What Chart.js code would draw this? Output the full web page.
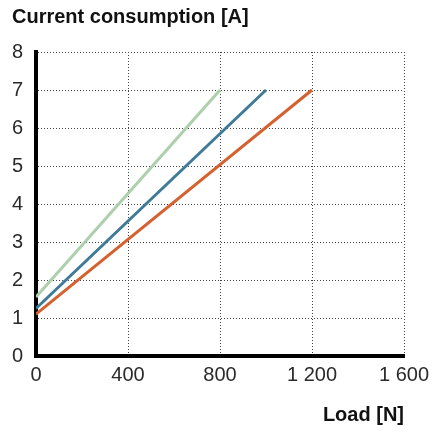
<!DOCTYPE html>
<html>
<head>
<meta charset="utf-8">
<script src="https://cdn.jsdelivr.net/npm/chart.js@4/dist/chart.umd.min.js"></script>
<style>
html, body { margin: 0; padding: 0; background: #fff; }
#wrap { width: 434px; height: 435px; }
</style>
</head>
<body>
<div id="wrap"><canvas id="chart_canvas" width="434" height="435"></canvas></div>
<script>
// values
var loadGreen = [0, 800];
var currentGreen = [1.55, 7];
var loadBlue = [0, 1000];
var currentBlue = [1.25, 7];
var loadOrange = [0, 1200];
var currentOrange = [1.1, 7];
var xTickLabels = ["0", "400", "800", "1 200", "1 600"];
var yTickLabels = ["0", "1", "2", "3", "4", "5", "6", "7", "8"];

function toPoints(xs, ys) {
    var pts = [];
    for (var i = 0; i < xs.length; i++) {
        pts.push({x: xs[i], y: ys[i]});
    }
    return pts;
}

var tickFont = {family: "'Liberation Sans', Arial, sans-serif", size: 20};
var labelFont = {family: "'Liberation Sans', Arial, sans-serif", size: 20, weight: "bold"};
var dotted = {color: "#444", lineWidth: 1, drawTicks: false};

window.myLineChart = new Chart(document.getElementById("chart_canvas").getContext("2d"), {
    type: "scatter",
    data: {
        datasets: [
            {
                label: "Green",
                showLine: true,
                borderColor: "#acd0ab",
                borderWidth: 3,
                pointRadius: 0,
                data: toPoints(loadGreen, currentGreen)
            }, {
                label: "Blue",
                showLine: true,
                borderColor: "#3f7b96",
                borderWidth: 3,
                pointRadius: 0,
                data: toPoints(loadBlue, currentBlue)
            }, {
                label: "Orange",
                showLine: true,
                borderColor: "#d4612f",
                borderWidth: 3,
                pointRadius: 0,
                data: toPoints(loadOrange, currentOrange)
            }
        ]
    },
    options: {
        responsive: false,
        animation: false,
        layout: {
            padding: {left: 12, right: 30, top: 0, bottom: 8}
        },
        plugins: {
            legend: {display: false},
            tooltip: {enabled: false},
            title: {
                display: true,
                text: "Current consumption [A]",
                align: "start",
                color: "#111",
                font: labelFont,
                padding: {top: 5, bottom: 23}
            }
        },
        scales: {
            x: {
                type: "linear",
                min: 0,
                max: 1600,
                afterFit: function (scale) {
                    scale.paddingRight = 0;
                    scale.paddingLeft = 0;
                },
                ticks: {
                    stepSize: 400,
                    padding: 7,
                    color: "#2a2a2a",
                    font: tickFont,
                    callback: function (value, index) { return xTickLabels[index]; }
                },
                grid: dotted,
                border: {display: true, color: "#000", width: 4, dash: [1, 2]},
                title: {
                    display: true,
                    text: "Load [N]",
                    align: "end",
                    color: "#111",
                    font: labelFont,
                    padding: {top: 9, bottom: 0}
                }
            },
            y: {
                min: 0,
                max: 8,
                afterFit: function (scale) { scale.width = 24; },
                ticks: {
                    stepSize: 1,
                    padding: 13,
                    color: "#2a2a2a",
                    font: tickFont,
                    callback: function (value, index) { return yTickLabels[index]; }
                },
                grid: dotted,
                border: {display: true, color: "#000", width: 4, dash: [1, 2]}
            }
        }
    }
});
</script>
</body>
</html>
